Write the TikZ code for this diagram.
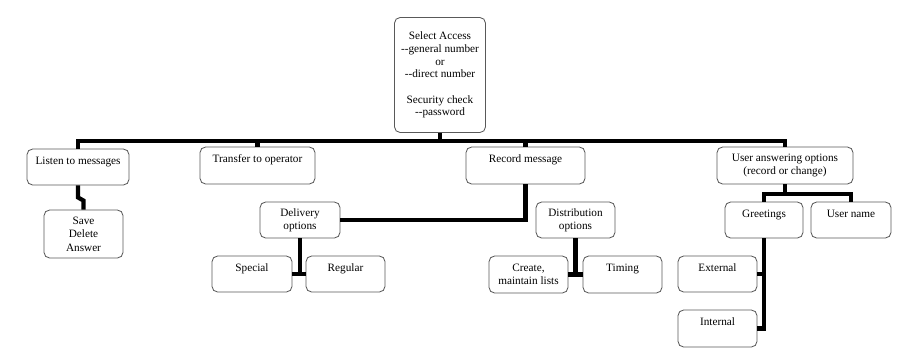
\documentclass[tikz,border=0pt]{standalone}
\usepackage{fontspec}
\setmainfont{Liberation Serif}
\usetikzlibrary{calc}

\begin{document}
\begin{tikzpicture}[x=0.025cm, y=-0.025cm,
    box/.style={draw=black!65, line width=0.6pt, rounded corners=4pt, align=center, inner sep=1pt, font=\fontsize{8}{9.5}\selectfont},
    link/.style={line width=3pt}]
    \useasboundingbox (0,0) rectangle (907,357);
    % top of the tree
    \node[box, minimum width=2.275cm, minimum height=2.875cm, font=\fontsize{8}{9}\selectfont] (access) at (440,75) {Select Access\\-{}-general number\\or\\-{}-direct number\\[9pt]Security check\\-{}-password};
    \node[box, minimum width=2.55cm, minimum height=0.9cm] (listen) at (78,167) {Listen to messages\\~};
    \node[box, minimum width=2.875cm, minimum height=0.925cm] (transfer) at (257.5,165.5) {Transfer to operator\\~};
    \node[box, minimum width=2.975cm, minimum height=0.925cm] (record) at (525.5,165.5) {Record message\\~};
    \node[box, minimum width=3.4cm, minimum height=0.925cm] (useropt) at (785,165.5) {User answering options\\(record or change)};
    % second level
    \node[box, minimum width=1.975cm, minimum height=1.2cm] (save) at (83.5,234) {Save\\Delete\\Answer};
    \node[box, minimum width=2cm, minimum height=0.9cm] (delivery) at (300,220) {Delivery\\options};
    \node[box, minimum width=1.975cm, minimum height=0.9cm] (distrib) at (575.5,220) {Distribution\\options};
    \node[box, minimum width=1.95cm, minimum height=0.9cm] (greetings) at (764,220) {Greetings\\~};
    \node[box, minimum width=2cm, minimum height=0.9cm] (username) at (851,220) {User name\\~};
    % third level
    \node[box, minimum width=2cm, minimum height=0.9cm] (special) at (252,274) {Special\\~};
    \node[box, minimum width=1.975cm, minimum height=0.9cm] (regular) at (345.5,274) {Regular\\~};
    \node[box, minimum width=1.975cm, minimum height=0.925cm] (create) at (528.5,274.5) {Create,\\maintain lists};
    \node[box, minimum width=1.975cm, minimum height=0.925cm] (timing) at (622.5,274.5) {Timing\\~};
    \node[box, minimum width=1.975cm, minimum height=0.9cm] (external) at (717.5,274) {External\\~};
    \node[box, minimum width=1.975cm, minimum height=0.925cm] (internal) at (717.5,328.5) {Internal\\~};
    % connectors
    \coordinate (bus) at (440,141);
    \coordinate (userbus) at (785,194);
    \draw[link] (access.south) -- (bus);
    \draw[link] (listen.north) |- (bus) -| (useropt.north);
    \draw[link] (transfer.north) -- (transfer.north |- bus);
    \draw[link] (record.north) -- (record.north |- bus);
    \draw[link] (listen.south) -- ++(0,12) -- ($(save.north)+(0,-9)$) -- (save.north);
    \draw[link] (record.south) |- (delivery.east);
    \draw[link] (delivery.south) -- (delivery.south |- special.east);
    \draw[link] (special.east) -- (regular.west);
    \draw[link] (distrib.south) -- (distrib.south |- create.east);
    \draw[link] (create.east) -- (timing.west);
    \draw[link] (useropt.south) -- (userbus);
    \draw[link] (greetings.north) |- (userbus) -| (username.north);
    \draw[link] (greetings.south) |- (internal.east);
    \draw[link] (external.east) -- (external.east -| greetings.south);
\end{tikzpicture}
\end{document}
